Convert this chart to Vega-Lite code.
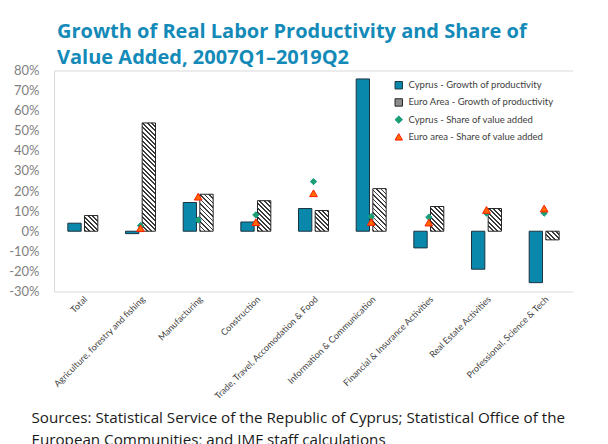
{
  "$schema": "https://vega.github.io/schema/vega-lite/v6.json",
  "width": 519,
  "height": 221,
  "padding": {"left": 8, "top": 21.5, "right": 0, "bottom": 0},
  "background": "#ffffff",
  "config": {
    "view": {"stroke": "#d9d9d9", "strokeWidth": 1},
    "font": "Lato"
  },
  "title": {
    "text": ["Growth of Real Labor Productivity and Share of", "Value Added, 2007Q1–2019Q2"],
    "anchor": "start",
    "frame": "group",
    "font": "Open Sans",
    "fontSize": 20,
    "fontWeight": "bold",
    "color": "#138ab8",
    "lineHeight": 26,
    "offset": -3.5,
    "dx": 3
  },
  "params": [
    {"name": "hatchStops", "value": [
      {"offset":0,"color":"#3a3a3a"},{"offset":0.0133,"color":"#3a3a3a"},{"offset":0.0133,"color":"#ffffff"},{"offset":0.0333,"color":"#ffffff"},
      {"offset":0.0333,"color":"#3a3a3a"},{"offset":0.0467,"color":"#3a3a3a"},{"offset":0.0467,"color":"#ffffff"},{"offset":0.0667,"color":"#ffffff"},
      {"offset":0.0667,"color":"#3a3a3a"},{"offset":0.08,"color":"#3a3a3a"},{"offset":0.08,"color":"#ffffff"},{"offset":0.1,"color":"#ffffff"},
      {"offset":0.1,"color":"#3a3a3a"},{"offset":0.1133,"color":"#3a3a3a"},{"offset":0.1133,"color":"#ffffff"},{"offset":0.1333,"color":"#ffffff"},
      {"offset":0.1333,"color":"#3a3a3a"},{"offset":0.1467,"color":"#3a3a3a"},{"offset":0.1467,"color":"#ffffff"},{"offset":0.1667,"color":"#ffffff"},
      {"offset":0.1667,"color":"#3a3a3a"},{"offset":0.18,"color":"#3a3a3a"},{"offset":0.18,"color":"#ffffff"},{"offset":0.2,"color":"#ffffff"},
      {"offset":0.2,"color":"#3a3a3a"},{"offset":0.2133,"color":"#3a3a3a"},{"offset":0.2133,"color":"#ffffff"},{"offset":0.2333,"color":"#ffffff"},
      {"offset":0.2333,"color":"#3a3a3a"},{"offset":0.2467,"color":"#3a3a3a"},{"offset":0.2467,"color":"#ffffff"},{"offset":0.2667,"color":"#ffffff"},
      {"offset":0.2667,"color":"#3a3a3a"},{"offset":0.28,"color":"#3a3a3a"},{"offset":0.28,"color":"#ffffff"},{"offset":0.3,"color":"#ffffff"},
      {"offset":0.3,"color":"#3a3a3a"},{"offset":0.3133,"color":"#3a3a3a"},{"offset":0.3133,"color":"#ffffff"},{"offset":0.3333,"color":"#ffffff"},
      {"offset":0.3333,"color":"#3a3a3a"},{"offset":0.3467,"color":"#3a3a3a"},{"offset":0.3467,"color":"#ffffff"},{"offset":0.3667,"color":"#ffffff"},
      {"offset":0.3667,"color":"#3a3a3a"},{"offset":0.38,"color":"#3a3a3a"},{"offset":0.38,"color":"#ffffff"},{"offset":0.4,"color":"#ffffff"},
      {"offset":0.4,"color":"#3a3a3a"},{"offset":0.4133,"color":"#3a3a3a"},{"offset":0.4133,"color":"#ffffff"},{"offset":0.4333,"color":"#ffffff"},
      {"offset":0.4333,"color":"#3a3a3a"},{"offset":0.4467,"color":"#3a3a3a"},{"offset":0.4467,"color":"#ffffff"},{"offset":0.4667,"color":"#ffffff"},
      {"offset":0.4667,"color":"#3a3a3a"},{"offset":0.48,"color":"#3a3a3a"},{"offset":0.48,"color":"#ffffff"},{"offset":0.5,"color":"#ffffff"},
      {"offset":0.5,"color":"#3a3a3a"},{"offset":0.5133,"color":"#3a3a3a"},{"offset":0.5133,"color":"#ffffff"},{"offset":0.5333,"color":"#ffffff"},
      {"offset":0.5333,"color":"#3a3a3a"},{"offset":0.5467,"color":"#3a3a3a"},{"offset":0.5467,"color":"#ffffff"},{"offset":0.5667,"color":"#ffffff"},
      {"offset":0.5667,"color":"#3a3a3a"},{"offset":0.58,"color":"#3a3a3a"},{"offset":0.58,"color":"#ffffff"},{"offset":0.6,"color":"#ffffff"},
      {"offset":0.6,"color":"#3a3a3a"},{"offset":0.6133,"color":"#3a3a3a"},{"offset":0.6133,"color":"#ffffff"},{"offset":0.6333,"color":"#ffffff"},
      {"offset":0.6333,"color":"#3a3a3a"},{"offset":0.6467,"color":"#3a3a3a"},{"offset":0.6467,"color":"#ffffff"},{"offset":0.6667,"color":"#ffffff"},
      {"offset":0.6667,"color":"#3a3a3a"},{"offset":0.68,"color":"#3a3a3a"},{"offset":0.68,"color":"#ffffff"},{"offset":0.7,"color":"#ffffff"},
      {"offset":0.7,"color":"#3a3a3a"},{"offset":0.7133,"color":"#3a3a3a"},{"offset":0.7133,"color":"#ffffff"},{"offset":0.7333,"color":"#ffffff"},
      {"offset":0.7333,"color":"#3a3a3a"},{"offset":0.7467,"color":"#3a3a3a"},{"offset":0.7467,"color":"#ffffff"},{"offset":0.7667,"color":"#ffffff"},
      {"offset":0.7667,"color":"#3a3a3a"},{"offset":0.78,"color":"#3a3a3a"},{"offset":0.78,"color":"#ffffff"},{"offset":0.8,"color":"#ffffff"},
      {"offset":0.8,"color":"#3a3a3a"},{"offset":0.8133,"color":"#3a3a3a"},{"offset":0.8133,"color":"#ffffff"},{"offset":0.8333,"color":"#ffffff"},
      {"offset":0.8333,"color":"#3a3a3a"},{"offset":0.8467,"color":"#3a3a3a"},{"offset":0.8467,"color":"#ffffff"},{"offset":0.8667,"color":"#ffffff"},
      {"offset":0.8667,"color":"#3a3a3a"},{"offset":0.88,"color":"#3a3a3a"},{"offset":0.88,"color":"#ffffff"},{"offset":0.9,"color":"#ffffff"},
      {"offset":0.9,"color":"#3a3a3a"},{"offset":0.9133,"color":"#3a3a3a"},{"offset":0.9133,"color":"#ffffff"},{"offset":0.9333,"color":"#ffffff"},
      {"offset":0.9333,"color":"#3a3a3a"},{"offset":0.9467,"color":"#3a3a3a"},{"offset":0.9467,"color":"#ffffff"},{"offset":0.9667,"color":"#ffffff"},
      {"offset":0.9667,"color":"#3a3a3a"},{"offset":0.98,"color":"#3a3a3a"},{"offset":0.98,"color":"#ffffff"},{"offset":1,"color":"#ffffff"}
    ]}
  ],
  "datasets": {
    "bars": [
      {"sector": "Total", "series": "Cyprus - Growth of productivity", "value": 4.0},
      {"sector": "Total", "series": "Euro Area - Growth of productivity", "value": 7.8},
      {"sector": "Agriculture, forestry and fishing", "series": "Cyprus - Growth of productivity", "value": -1.2},
      {"sector": "Agriculture, forestry and fishing", "series": "Euro Area - Growth of productivity", "value": 53.9},
      {"sector": "Manufacturing", "series": "Cyprus - Growth of productivity", "value": 14.3},
      {"sector": "Manufacturing", "series": "Euro Area - Growth of productivity", "value": 18.4},
      {"sector": "Construction", "series": "Cyprus - Growth of productivity", "value": 4.6},
      {"sector": "Construction", "series": "Euro Area - Growth of productivity", "value": 15.2},
      {"sector": "Trade, Travel, Accomodation & Food", "series": "Cyprus - Growth of productivity", "value": 11.3},
      {"sector": "Trade, Travel, Accomodation & Food", "series": "Euro Area - Growth of productivity", "value": 10.3},
      {"sector": "Information & Communication", "series": "Cyprus - Growth of productivity", "value": 75.8},
      {"sector": "Information & Communication", "series": "Euro Area - Growth of productivity", "value": 21.2},
      {"sector": "Financial & Insurance Activities", "series": "Cyprus - Growth of productivity", "value": -8.3},
      {"sector": "Financial & Insurance Activities", "series": "Euro Area - Growth of productivity", "value": 12.3},
      {"sector": "Real Estate Activities", "series": "Cyprus - Growth of productivity", "value": -18.9},
      {"sector": "Real Estate Activities", "series": "Euro Area - Growth of productivity", "value": 11.3},
      {"sector": "Professional, Science & Tech", "series": "Cyprus - Growth of productivity", "value": -25.6},
      {"sector": "Professional, Science & Tech", "series": "Euro Area - Growth of productivity", "value": -4.3}
    ],
    "shares": [
      {"sector": "Agriculture, forestry and fishing", "series": "Cyprus - Share of value added", "value": 2.8},
      {"sector": "Agriculture, forestry and fishing", "series": "Euro area - Share of value added", "value": 1.5},
      {"sector": "Manufacturing", "series": "Cyprus - Share of value added", "value": 5.6},
      {"sector": "Manufacturing", "series": "Euro area - Share of value added", "value": 17.2},
      {"sector": "Construction", "series": "Cyprus - Share of value added", "value": 8.1},
      {"sector": "Construction", "series": "Euro area - Share of value added", "value": 4.5},
      {"sector": "Trade, Travel, Accomodation & Food", "series": "Cyprus - Share of value added", "value": 24.7},
      {"sector": "Trade, Travel, Accomodation & Food", "series": "Euro area - Share of value added", "value": 18.9},
      {"sector": "Information & Communication", "series": "Cyprus - Share of value added", "value": 7.3},
      {"sector": "Information & Communication", "series": "Euro area - Share of value added", "value": 4.6},
      {"sector": "Financial & Insurance Activities", "series": "Cyprus - Share of value added", "value": 7.0},
      {"sector": "Financial & Insurance Activities", "series": "Euro area - Share of value added", "value": 4.3},
      {"sector": "Real Estate Activities", "series": "Cyprus - Share of value added", "value": 9.0},
      {"sector": "Real Estate Activities", "series": "Euro area - Share of value added", "value": 10.6},
      {"sector": "Professional, Science & Tech", "series": "Cyprus - Share of value added", "value": 9.0},
      {"sector": "Professional, Science & Tech", "series": "Euro area - Share of value added", "value": 11.3}
    ]
  },
  "encoding": {
    "x": {
      "field": "sector",
      "type": "nominal",
      "scale": {
        "domain": ["Total", "Agriculture, forestry and fishing", "Manufacturing", "Construction", "Trade, Travel, Accomodation & Food", "Information & Communication", "Financial & Insurance Activities", "Real Estate Activities", "Professional, Science & Tech"],
        "paddingInner": 0.48,
        "paddingOuter": 0.24
      },
      "axis": {
        "labelAngle": -45,
        "labelFont": "Lato",
        "labelFontSize": 9,
        "labelColor": "#404040",
        "labelPadding": 3,
        "ticks": false,
        "domain": false,
        "title": ["Sources: Statistical Service of the Republic of Cyprus; Statistical Office of the", "European Communities; and IMF staff calculations"],
        "titleFont": "Open Sans",
        "titleFontSize": 15.2,
        "titleFontWeight": "normal",
        "titleColor": "#1a1a1a",
        "titleLineHeight": 22,
        "titleAnchor": "start",
        "titleAlign": "left",
        "titleBaseline": "alphabetic",
        "titleX": -23,
        "titleY": 131
      }
    },
    "y": {
      "field": "value",
      "type": "quantitative",
      "scale": {"domain": [-30, 80], "nice": false, "zero": false},
      "axis": {
        "values": [-30, -20, -10, 0, 10, 20, 30, 40, 50, 60, 70, 80],
        "labelExpr": "datum.value + '%'",
        "labelFont": "Lato",
        "labelFontSize": 13,
        "labelColor": "#7f7f7f",
        "labelPadding": 15,
        "ticks": false,
        "domain": false,
        "grid": false,
        "title": null
      }
    }
  },
  "layer": [
    {
      "mark": {"type": "rule", "color": "#a6a6a6", "strokeWidth": 1},
      "encoding": {"y": {"datum": 0}, "x": null}
    },
    {
      "data": {"name": "bars"},
      "mark": {"type": "bar", "strokeWidth": 1},
      "encoding": {
        "xOffset": {
          "field": "series",
          "type": "nominal",
          "scale": {"domain": ["Cyprus - Growth of productivity", "Euro Area - Growth of productivity"], "paddingInner": 0.2}
        },
        "y": {"field": "value", "type": "quantitative"},
        "y2": {"datum": 0},
        "fill": {
          "field": "series",
          "type": "nominal",
          "scale": {
            "domain": ["Cyprus - Growth of productivity", "Euro Area - Growth of productivity", "Cyprus - Share of value added", "Euro area - Share of value added"],
            "range": ["#0a88ab", "#8c8c8c", "#1d9f6a", "#ff6a00"]
          },
          "legend": {
            "title": null,
            "orient": "none",
            "legendX": 340,
            "legendY": 10,
            "padding": 0,
            "labelFont": "Lato",
            "labelFontSize": 9.5,
            "labelColor": "#404040",
            "symbolSize": 55,
            "symbolStrokeWidth": 1,
            "rowPadding": 5.2,
            "labelOffset": 5
          },
          "condition": {
            "test": "datum.series === 'Euro Area - Growth of productivity'",
            "value": {"expr": "{gradient: 'linear', x1: 0, y1: 1, x2: 135*bandwidth('xOffset')/(bandwidth('xOffset')*bandwidth('xOffset') + pow(scale('y', datum.value) - scale('y', 0), 2)), y2: 1 - 135*abs(scale('y', datum.value) - scale('y', 0))/(bandwidth('xOffset')*bandwidth('xOffset') + pow(scale('y', datum.value) - scale('y', 0), 2)), stops: hatchStops}"}
          }
        },
        "stroke": {
          "field": "series",
          "type": "nominal",
          "scale": {
            "domain": ["Cyprus - Growth of productivity", "Euro Area - Growth of productivity", "Cyprus - Share of value added", "Euro area - Share of value added"],
            "range": ["#1c3440", "#262626", "#109a90", "#ff1a00"]
          }
        }
      }
    },
    {
      "data": {"name": "shares"},
      "mark": {"type": "point", "filled": true, "opacity": 1, "strokeWidth": 1},
      "encoding": {
        "y": {"field": "value", "type": "quantitative"},
        "fill": {"field": "series", "type": "nominal"},
        "stroke": {"field": "series", "type": "nominal"},
        "shape": {
          "field": "series",
          "type": "nominal",
          "scale": {
            "domain": ["Cyprus - Growth of productivity", "Euro Area - Growth of productivity", "Cyprus - Share of value added", "Euro area - Share of value added"],
            "range": ["square", "square", "diamond", "triangle-up"]
          }
        },
        "size": {
          "condition": {"test": "datum.series === 'Euro area - Share of value added'", "value": 60},
          "value": 40
        }
      }
    }
  ]
}
